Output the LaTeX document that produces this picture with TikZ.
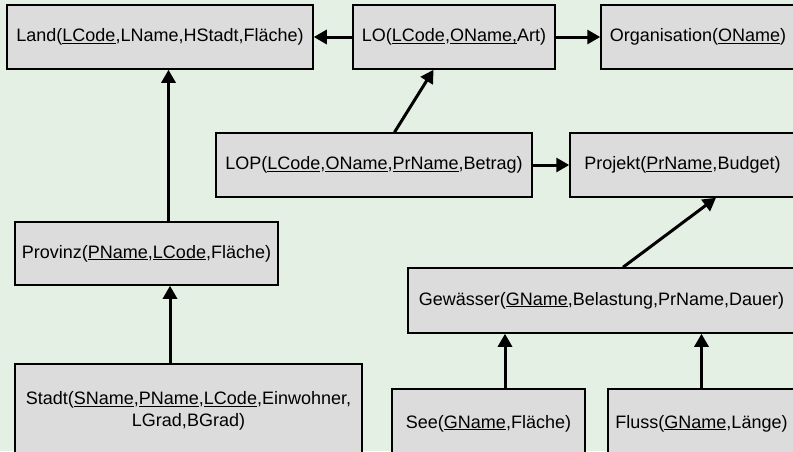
\documentclass[tikz,border=0pt]{standalone}
\usepackage{fontspec}
\setmainfont{Liberation Sans}
\usepackage{tikz}
\usetikzlibrary{arrows.meta,calc}
\definecolor{backdrop}{RGB}{228,240,228}
\definecolor{relation}{RGB}{220,220,220}
\newcommand{\key}[1]{\underline{\smash{#1}}}

\begin{document}
\begin{tikzpicture}[x=1pt,y=-1pt,
    relation/.style={draw=black, line width=1.5pt, fill=relation, inner sep=0pt,
        font=\fontsize{18}{22}\selectfont, align=center},
    fk/.style={line width=3pt, -{Triangle[length=13pt,width=14pt]}}]
    %% Background
    \fill[backdrop] (0,0) rectangle (793,451);
    \useasboundingbox (0,0) rectangle (793,451);
    \clip (0,0) rectangle (793,451);
    %% Relations
    \node[relation, minimum width=306pt, minimum height=64pt] (land) at (160,37)
        {Land(\key{LCode},LName,HStadt,Fläche)};
    \node[relation, minimum width=202pt, minimum height=64pt] (lo) at (454,37)
        {LO(\key{LCode},\key{OName,}Art)};
    \node[relation, minimum width=194pt, minimum height=64pt] (org) at (698,37)
        {Organisation(\key{OName})};
    \node[relation, minimum width=316pt, minimum height=64pt] (lop) at (374,165)
        {LOP(\key{LCode},\key{OName},\key{PrName},Betrag)};
    \node[relation, minimum width=225pt, minimum height=64pt] (proj) at (682.5,165)
        {Projekt(\key{PrName},Budget)};
    \node[relation, minimum width=263pt, minimum height=63pt] (prov) at (146.5,253.5)
        {Provinz(\key{PName},\key{LCode},Fläche)};
    \node[relation, minimum width=387pt, minimum height=65pt] (gew) at (601.5,300.5)
        {Gewässer(\key{GName},Belastung,PrName,Dauer)};
    \node[relation, minimum width=347pt, minimum height=94pt] (stadt) at (188.5,411)
        {Stadt(\key{SName},\key{PName},\key{LCode},Einwohner,\\LGrad,BGrad)};
    \node[relation, minimum width=193pt, minimum height=69pt] (see) at (488.5,423.5)
        {See(\key{GName},Fläche)};
    \node[relation, minimum width=187pt, minimum height=69pt] (fluss) at (701.5,423.5)
        {Fluss(\key{GName},Länge)};
    %% Foreign keys
    \draw[fk] (lo) -- (land);
    \draw[fk] (lo) -- (org);
    \draw[fk] (lop) -- (lo);
    \draw[fk] (lop) -- (proj);
    \draw[fk] ([xshift=22pt]prov.north) -- ([xshift=22pt]prov.north |- land.south);
    \draw[fk] ([xshift=-18.5pt]stadt.north) -- ([xshift=-18.5pt]stadt.north |- prov.south);
    \draw[fk] ([xshift=21.5pt]gew.north) -- ([xshift=33.5pt]proj.south);
    \draw[fk] ([xshift=16.5pt]see.north) -- ([xshift=16.5pt]see.north |- gew.south);
    \draw[fk] (fluss.north) -- (fluss.north |- gew.south);
\end{tikzpicture}
\end{document}
